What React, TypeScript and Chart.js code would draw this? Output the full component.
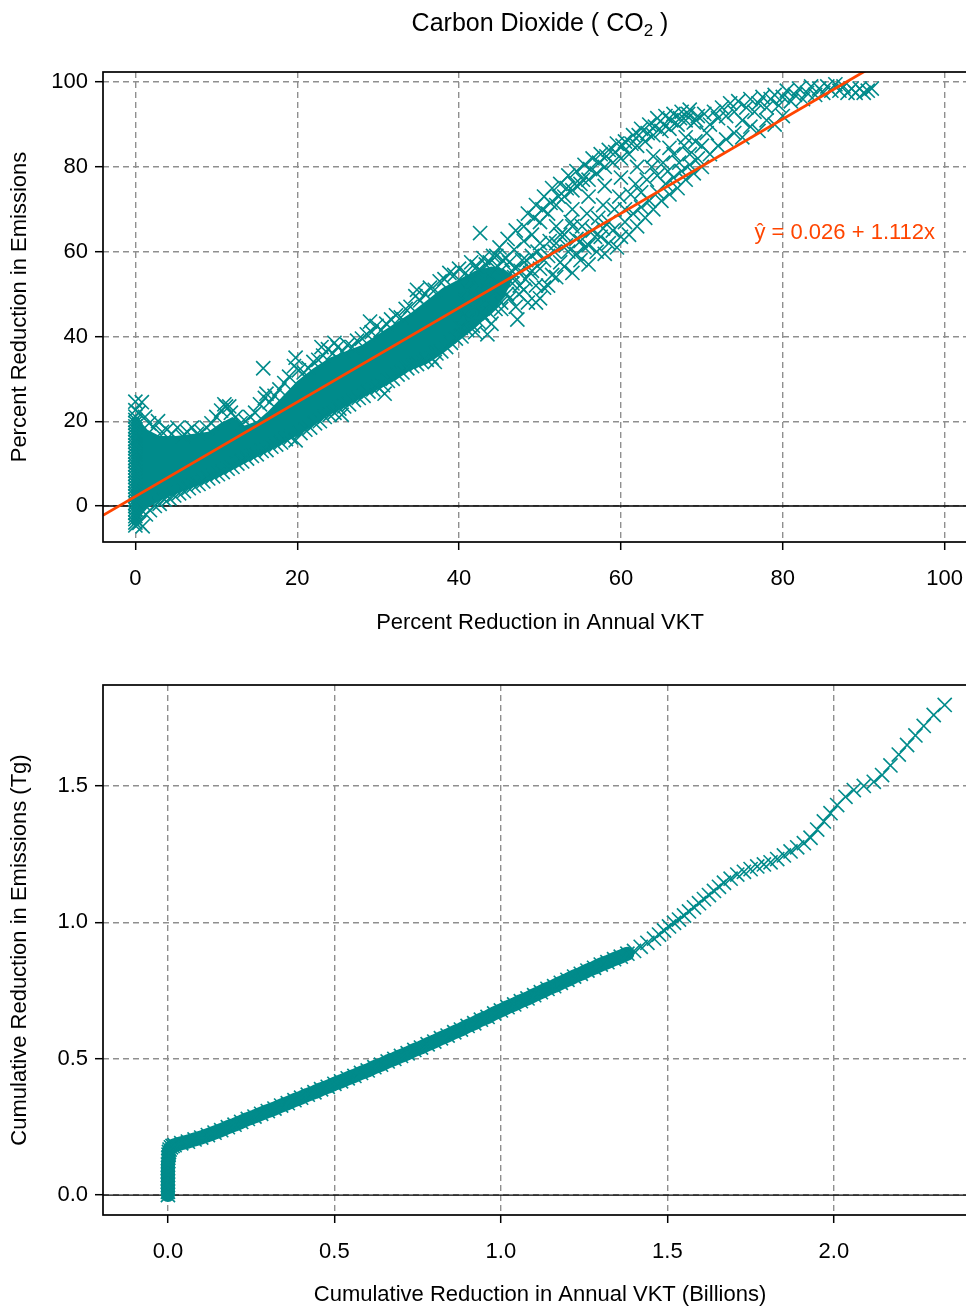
import React, { useEffect, useRef } from "react";
import { Chart, registerables } from "chart.js";

Chart.register(...registerables);

const TEAL = "#008B8B";
const ORANGE = "#FF4500";
const GRID = "#8f8f8f";
const FONT = "'Liberation Sans', Arial, Helvetica, sans-serif";

// ---------------- top panel: percent reduction ----------------
const pctTicksX = [0, 20, 40, 60, 80, 100];
const pctTicksY = [0, 20, 40, 60, 80, 100];
const pctXRange = [-4, 104];
const pctYRange = [-8.5, 102.4];

// many segments with zero VKT reduction (x = 0)
const zeroVktEmis = [
  -4.6, -3.9, -3.1, -2.4, -1.6, -0.8, 0, 0.7, 1.5, 2.3, 3, 3.8, 4.5, 5.3, 6, 6.8, 7.6, 8.3, 9.1, 9.8,
  10.6, 11.3, 12.1, 12.8, 13.6, 14.3, 15.1, 15.8, 16.6, 17.3, 18.1, 18.8, 19.6, 20.3, 21.1, 22.6, 24.6,
];

// envelope of the dense cloud (solid region)
const denseX = [-0.45, 0.45, 0.6, 1.5, 3, 5, 7, 9, 10.5, 12, 13.5, 15, 16.5, 18, 20, 22, 24, 26, 28, 30, 32, 34, 36, 38, 40, 42, 44, 45.5, 46.5];
const denseLo = [-4.5, -4.5, -2.5, -0.5, 1.2, 2.8, 4.3, 5.8, 7, 8.5, 10, 11.5, 13, 14.5, 16.5, 19, 21.5, 23.5, 25.5, 27.5, 29.5, 32, 33.5, 36, 39, 42, 45.5, 49, 53];
const denseHi = [21, 21, 20, 18, 16.5, 16.5, 17, 17.5, 19.5, 21, 19, 20, 22.5, 25.5, 29.5, 32.5, 35, 36.5, 38, 40.5, 43, 45.5, 48.5, 51.5, 53.5, 55.5, 56.5, 56, 54.5];

const upperEdgePts: [number, number][] = [
  [0.4, 22], [0.8, 24.5], [1.2, 21], [1.7, 19.5], [2.3, 18.5], [2.8, 20], [3.3, 17.5], [3.9, 18], [4.5, 17],
  [5.2, 18.5], [5.8, 16.5], [6.4, 17.5], [7, 18.5], [7.6, 17], [8.2, 17.5], [8.8, 18.5], [9.4, 19.5], [10, 21],
  [10.6, 22.5], [11.2, 23.5], [11.8, 22], [12.4, 21], [13, 19.5], [13.6, 20], [14.2, 21], [14.8, 22], [15.4, 24],
  [16, 25.5], [16.6, 24.5], [17.2, 26], [17.8, 27.5], [18.4, 29], [19, 30.5], [19.6, 33], [20.2, 32], [20.8, 31.5],
  [21.4, 32.5], [22, 34], [22.6, 34.5], [23.2, 35.5], [23.8, 37], [24.4, 36], [25, 37.5], [25.6, 36.5], [26.2, 38],
  [26.8, 37.5], [27.4, 39], [28, 39.5], [28.6, 40.5], [29.2, 41], [29.8, 42.5], [30.4, 41.5], [31, 43], [31.6, 44],
  [32.2, 45], [32.8, 44.5], [33.4, 46.5], [34, 47], [34.6, 49.5], [35.2, 48.5], [35.8, 50], [36.4, 51.5], [37, 51],
  [37.6, 53], [38.2, 53.5], [38.8, 55], [39.4, 54.5], [40, 56], [40.8, 55], [41.5, 57.5], [42.2, 56.5], [43, 58.5],
  [43.8, 57.5], [44.6, 59], [45.4, 58], [46.2, 57.5], [47, 56],
];

const lowerEdgePts: [number, number][] = [
  [0.5, -4], [0.9, -4.8], [1.3, -2], [1.8, -1], [2.4, 0], [3, 0.5], [3.6, 1.5], [4.2, 1.8], [4.8, 2.5], [5.4, 3],
  [6, 3.5], [6.6, 4.2], [7.2, 4.8], [7.8, 5.2], [8.4, 5.8], [9, 6.5], [9.6, 7], [10.2, 7.5], [10.8, 8], [11.4, 8.8],
  [12, 9.2], [12.6, 10], [13.2, 10.5], [13.8, 11.2], [14.4, 11.8], [15, 12.2], [15.6, 13], [16.2, 13.2], [16.8, 14],
  [17.4, 14.5], [18, 15], [18.6, 15.8], [19.2, 16.2], [19.8, 15.5], [20.4, 17.2], [21, 18], [21.6, 18.5], [22.2, 19.5],
  [22.8, 20], [23.4, 21], [24, 21.5], [24.6, 22], [25.2, 23], [25.8, 23.5], [26.4, 24], [27, 25], [27.6, 25.5],
  [28.2, 26], [28.8, 27], [29.4, 27.5], [30, 28], [30.6, 28.5], [31.2, 29.5], [31.8, 30], [32.4, 31], [33, 31.5],
  [33.6, 32.5], [34.2, 33], [34.8, 33.5], [35.4, 34], [36, 34.5], [36.6, 35], [37.2, 36], [37.8, 36.5], [38.4, 37.5],
  [39, 38.5], [39.6, 39.5], [40.3, 40], [41, 41.5], [41.7, 42.5], [42.4, 43.5], [43.1, 44.5], [43.8, 45.5],
  [44.5, 46.5], [45.2, 48], [45.9, 50], [46.6, 52.5],
];

const spikePts: [number, number][] = [
  [11, 24], [11.6, 23.5], [15.8, 32.5], [16.2, 26.5], [19.8, 35], [23, 37.5], [24.6, 38.5], [29, 43.5], [34.8, 51],
  [25.5, 21.5], [30.8, 26.5], [37, 34], [42, 41], [43.5, 40.5],
];

const midCloudPts: [number, number][] = [
  [40.2, 42], [40.5, 45], [40.7, 48.5], [41, 51], [41.2, 44], [41.5, 53.5], [41.8, 47], [42, 50],
  [42.3, 55.5], [42.6, 64.4], [42.8, 45.5], [43, 52.5], [43.3, 57], [43.5, 48.5], [43.8, 54.5],
  [44, 43], [44.2, 59], [44.5, 51], [44.8, 56.5], [45, 61], [45.2, 46.5], [45.5, 53.5], [45.8, 58.5], [46, 63],
  [46.2, 49], [46.5, 55.5], [46.8, 60.5], [47, 65], [47.2, 44], [47.5, 52], [47.8, 58], [48, 62.5], [48.5, 48],
  [48.8, 55], [49, 59], [49.5, 52], [50, 56], [51, 59], [52, 62], [53, 64], [54, 66],
  [47, 47], [48, 51], [49, 55.5], [49.5, 48], [50.5, 51.5], [51.5, 54.5], [52.5, 57.5], [53.5, 60],
  [54.5, 59.5], [55, 62.5], [56, 61.5], [56.8, 63.5], [57.8, 65.5], [48.3, 58], [49.7, 60], [50.5, 58],
  [51.2, 62.5], [51.8, 60], [52.5, 64], [53.2, 61.5], [53.8, 67], [54.5, 63], [55.2, 66], [55.8, 69], [56.5, 65],
  [57.2, 68], [57.8, 71], [58.5, 67], [59.2, 70], [59.8, 73], [60.5, 70], [61.2, 73.5], [61.8, 76], [62.5, 74],
  [63.2, 77], [63.8, 80], [64.5, 78], [65.2, 81], [65.8, 79], [66.5, 83], [67.2, 81], [67.8, 85], [68.5, 83],
  [69.2, 86], [70, 85], [70.6, 88], [46.8, 54], [47.4, 50], [47.6, 55.5], [48.2, 53.5],
];

const upperClusterPts: [number, number][] = [
  [48, 66], [48.5, 69], [49, 64], [49.5, 71], [50, 67], [50.5, 73], [51, 69], [51.5, 75], [52, 71], [52.5, 76],
  [53, 73], [53.5, 78], [54, 74.5], [54.5, 79], [55, 76], [55.5, 80.5], [56, 77], [56.5, 82], [57, 78.5],
  [57.5, 83], [58, 80], [58.5, 84], [59, 81], [59.5, 85.5], [60, 82], [60.5, 86], [61, 83], [61.5, 87.5],
  [62, 85], [62.5, 89], [63, 86], [63.5, 90], [64, 87.5], [64.5, 91.5], [65, 88.5], [65.5, 92], [66, 89],
  [66.5, 92.5], [67, 90], [67.5, 93], [68, 91], [68.5, 93.5], [69, 90.5], [69.5, 92],
  [50, 62], [52, 66], [54, 70], [56, 73], [58, 75.5], [60, 77.5], [62, 80], [64, 82.5], [66, 84.5], [68, 87],
  [56.2, 79.5], [57.3, 81], [58.2, 82.5], [59.3, 83.5], [60.2, 85], [61.3, 85.5], [62.2, 87.5], [63.3, 88],
  [64.2, 89.5], [65.3, 90], [66.2, 91], [67.3, 91.5], [68.3, 92.5], [69.3, 91], [70.3, 92.5], [55.3, 77],
  [54.3, 76], [53.3, 75], [52.3, 73], [51.3, 71.5], [50.3, 70], [49.3, 68],
];

const lowerBranchPts: [number, number][] = [
  [50, 49], [51, 52], [52, 54], [53, 56.5], [54, 55], [55, 58], [55.5, 61], [56, 57], [57, 60], [57.5, 63.5],
  [58, 59.5], [58.5, 62], [59, 65], [59.5, 61], [60, 63.5], [60.5, 67], [61, 64], [61.5, 69], [62, 66],
  [62.5, 70.5], [63, 68], [63.5, 72], [64, 70], [64.5, 74], [65, 72], [65.5, 76], [66, 73.5], [66.5, 77.5],
  [67, 75], [67.5, 79], [68, 77], [68.5, 80.5], [69, 78.5], [69.5, 82], [70, 80], [71, 83], [72, 85],
  [73, 86.5], [74, 88], [75, 87], [76, 89.5], [77, 88.5], [78, 91], [79, 90], [80, 92],
];

const topRightPts: [number, number][] = [
  [71, 90], [71.5, 93], [72, 91.5], [72.5, 94], [73, 92], [73.5, 95], [74, 93], [74.5, 95.5], [75, 91], [75.5, 94],
  [76, 96], [76.5, 93], [77, 95], [77.5, 96.5], [78, 94], [78.5, 96], [79, 97], [79.5, 94.5], [80, 96.5],
  [80.5, 98], [81, 95.5], [81.5, 97], [82, 98.5], [82.5, 96], [83, 97.5], [83.5, 99], [84, 97], [84.5, 98.5],
  [85, 97.5], [85.5, 99], [86, 98], [86.5, 99.5], [87, 98], [87.5, 99], [88, 97.5], [88.5, 98.5], [89, 97.5],
  [89.5, 98.5], [90, 97.5], [90.5, 98], [91, 98.5],
];

// fitted line  y-hat = 0.026 + 1.112x (drawn end points, percent units)
const fitX = [-4, 95];
const fitY = [-2.2, 108];
const fitLabel = "\u0177 = 0.026 + 1.112x";
const fitLabelAt = [76.5, 64.4];

// ---------------- bottom panel: cumulative ----------------
const cumTicksX = [0, 0.5, 1, 1.5, 2];
const cumTicksY = [0, 0.5, 1, 1.5];
const cumXRange = [-0.195, 2.43];
const cumYRange = [-0.073, 1.87];

const cumStemPts: [number, number][] = [
  [0, 0], [0, 0.012], [0, 0.025], [0, 0.037], [0, 0.05], [0, 0.062], [0, 0.075], [0, 0.087], [0, 0.1], [0, 0.112],
  [0.001, 0.125], [0.001, 0.137], [0.002, 0.148], [0.003, 0.158], [0.005, 0.167], [0.009, 0.175], [0.014, 0.18],
];

const cumDensePts: [number, number][] = [
  [0.02, 0.183], [0.04, 0.19], [0.06, 0.196], [0.08, 0.204], [0.1, 0.211], [0.12, 0.22], [0.14, 0.229],
  [0.16, 0.238], [0.18, 0.249], [0.2, 0.258], [0.22, 0.268], [0.24, 0.279], [0.26, 0.288], [0.28, 0.298],
  [0.3, 0.308], [0.32, 0.317], [0.34, 0.328], [0.36, 0.337], [0.38, 0.348], [0.4, 0.357], [0.42, 0.368],
  [0.44, 0.377], [0.46, 0.388], [0.48, 0.397], [0.5, 0.408], [0.52, 0.417], [0.54, 0.428], [0.56, 0.437],
  [0.58, 0.448], [0.6, 0.457], [0.62, 0.469], [0.64, 0.478], [0.66, 0.49], [0.68, 0.499], [0.7, 0.51],
  [0.72, 0.52], [0.74, 0.532], [0.76, 0.541], [0.78, 0.553], [0.8, 0.563], [0.82, 0.575], [0.84, 0.585],
  [0.86, 0.597], [0.88, 0.607], [0.9, 0.62], [0.92, 0.63], [0.94, 0.643], [0.96, 0.653], [0.98, 0.666],
  [1.0, 0.677], [1.02, 0.689], [1.04, 0.699], [1.06, 0.711], [1.08, 0.721], [1.1, 0.733], [1.12, 0.744],
  [1.14, 0.756], [1.16, 0.766], [1.18, 0.778], [1.2, 0.789], [1.22, 0.801], [1.24, 0.811], [1.26, 0.823],
  [1.28, 0.833], [1.3, 0.845], [1.32, 0.854], [1.34, 0.865], [1.36, 0.874], [1.38, 0.885],
];

const cumSparsePts: [number, number][] = [
  [1.4, 0.895], [1.42, 0.91], [1.44, 0.925], [1.46, 0.94], [1.475, 0.955], [1.49, 0.97], [1.505, 0.985],
  [1.52, 0.998], [1.535, 1.01], [1.55, 1.025], [1.565, 1.04], [1.58, 1.055], [1.595, 1.07], [1.61, 1.085],
  [1.625, 1.1], [1.64, 1.115], [1.655, 1.13], [1.67, 1.145], [1.69, 1.16], [1.71, 1.175], [1.73, 1.185],
  [1.75, 1.195], [1.77, 1.205], [1.79, 1.212], [1.81, 1.22], [1.83, 1.232], [1.85, 1.245], [1.87, 1.26],
  [1.89, 1.275], [1.91, 1.29], [1.93, 1.31], [1.95, 1.34], [1.97, 1.37], [1.99, 1.4], [2.01, 1.43],
  [2.035, 1.46], [2.06, 1.485], [2.09, 1.5], [2.12, 1.515], [2.145, 1.54], [2.17, 1.575], [2.195, 1.615],
  [2.22, 1.65], [2.245, 1.685], [2.27, 1.72], [2.3, 1.76], [2.333, 1.797],
];

// ---------------- helpers ----------------
const xy = (pts: [number, number][]) => pts.map(([x, y]) => ({ x, y }));

function xAxis(range: number[], ticks: number[], fmt: (v: number) => string, title: string, height: number, titlePad: number) {
  return {
    type: "linear",
    position: "bottom",
    min: range[0],
    max: range[1],
    afterBuildTicks: (s: any) => {
      s.ticks = ticks.map((v) => ({ value: v }));
    },
    afterFit: (s: any) => {
      s.height = height;
    },
    grid: { color: GRID, lineWidth: 1.4, drawTicks: true, tickLength: 8, tickColor: "#000", tickWidth: 1.5, tickBorderDash: [] },
    border: { display: false, dash: [6, 4] },
    ticks: {
      color: "#000",
      font: { family: FONT, size: 22 },
      padding: 15.5,
      maxRotation: 0,
      autoSkip: false,
      callback: (v: any) => fmt(Number(v)),
    },
    title: { display: true, text: title, color: "#000", font: { family: FONT, size: 22 }, padding: { top: 0, bottom: titlePad } },
  };
}

function yAxis(range: number[], ticks: number[], fmt: (v: number) => string, title: string) {
  return {
    type: "linear",
    position: "left",
    min: range[0],
    max: range[1],
    afterBuildTicks: (s: any) => {
      s.ticks = ticks.map((v) => ({ value: v }));
    },
    afterFit: (s: any) => {
      s.width = 103;
    },
    grid: { color: GRID, lineWidth: 1.4, drawTicks: true, tickLength: 8, tickColor: "#000", tickWidth: 1.5, tickBorderDash: [] },
    border: { display: false, dash: [6, 4] },
    ticks: {
      color: "#000",
      font: { family: FONT, size: 22 },
      padding: 7,
      autoSkip: false,
      callback: (v: any) => fmt(Number(v)),
    },
    title: { display: true, text: title, color: "#000", font: { family: FONT, size: 22 }, padding: { top: 7, bottom: 0 } },
  };
}

const framePlugin = {
  id: "frameAndZero",
  beforeDatasetsDraw(chart: any) {
    const { ctx, chartArea: a, scales } = chart;
    const py = scales.y.getPixelForValue(0);
    ctx.save();
    ctx.strokeStyle = "#000";
    ctx.lineWidth = 1.3;
    ctx.beginPath();
    ctx.moveTo(a.left, py);
    ctx.lineTo(a.right, py);
    ctx.stroke();
    ctx.restore();
  },
  afterDatasetsDraw(chart: any) {
    const { ctx, chartArea: a } = chart;
    ctx.save();
    ctx.strokeStyle = "#000";
    ctx.lineWidth = 1.7;
    ctx.strokeRect(a.left, a.top, a.right - a.left, a.bottom - a.top);
    ctx.restore();
  },
};

const fitLabelPlugin = {
  id: "fitLabel",
  afterDatasetsDraw(chart: any) {
    const { ctx, scales } = chart;
    ctx.save();
    ctx.font = `22px ${FONT}`;
    ctx.fillStyle = ORANGE;
    ctx.textAlign = "left";
    ctx.textBaseline = "middle";
    ctx.fillText(fitLabel, scales.x.getPixelForValue(fitLabelAt[0]), scales.y.getPixelForValue(fitLabelAt[1]));
    ctx.restore();
  },
};

const baseOptions = (padTop: number) => ({
  animation: false,
  responsive: false,
  maintainAspectRatio: false,
  devicePixelRatio: 1,
  events: [],
  layout: { padding: { top: padTop, right: 13, bottom: 0, left: 0 } },
  plugins: { legend: { display: false }, tooltip: { enabled: false }, title: { display: false } },
});

const crossStyle = {
  pointStyle: "crossRot",
  pointRadius: 10,
  borderWidth: 1.6,
  pointBorderWidth: 1.6,
  borderColor: TEAL,
  pointBorderColor: TEAL,
  backgroundColor: TEAL,
};

function topConfig(): any {
  const pts: [number, number][] = [
    ...zeroVktEmis.map((y) => [0, y] as [number, number]),
    ...upperEdgePts,
    ...lowerEdgePts,
    ...spikePts,
    ...midCloudPts,
    ...upperClusterPts,
    ...lowerBranchPts,
    ...topRightPts,
  ];
  return {
    type: "scatter",
    data: {
      datasets: [
        {
          type: "line",
          label: "fit",
          data: fitX.map((x, i) => ({ x, y: fitY[i] })),
          borderColor: ORANGE,
          borderWidth: 2.8,
          pointRadius: 0,
          fill: false,
          order: 0,
        },
        { label: "segments", data: xy(pts), ...crossStyle, order: 1 },
        {
          type: "line",
          label: "denseHi",
          data: denseX.map((x, i) => ({ x, y: denseHi[i] })),
          borderWidth: 0,
          borderColor: TEAL,
          pointRadius: 0,
          backgroundColor: TEAL,
          fill: "+1",
          order: 2,
        },
        {
          type: "line",
          label: "denseLo",
          data: denseX.map((x, i) => ({ x, y: denseLo[i] })),
          borderWidth: 0,
          borderColor: TEAL,
          pointRadius: 0,
          fill: false,
          order: 3,
        },
      ],
    },
    options: {
      ...baseOptions(72),
      scales: {
        x: xAxis(pctXRange, pctTicksX, (v) => String(v), "Percent Reduction in Annual VKT", 108, 13.8),
        y: yAxis(pctYRange, pctTicksY, (v) => String(v), "Percent Reduction in Emissions"),
      },
    },
    plugins: [framePlugin, fitLabelPlugin],
  };
}

function bottomConfig(): any {
  const all = [...cumStemPts, ...cumDensePts, ...cumSparsePts];
  const solid = [...cumStemPts, ...cumDensePts];
  return {
    type: "scatter",
    data: {
      datasets: [
        { label: "cumulative", data: xy(all), ...crossStyle, order: 0 },
        {
          type: "line",
          label: "cumulative-dense",
          data: xy(solid),
          borderColor: TEAL,
          borderWidth: 14,
          borderCapStyle: "round",
          borderJoinStyle: "round",
          pointRadius: 0,
          fill: false,
          order: 1,
        },
      ],
    },
    options: {
      ...baseOptions(35),
      scales: {
        x: xAxis(cumXRange, cumTicksX, (v) => v.toFixed(1), "Cumulative Reduction in Annual VKT (Billions)", 105, 11.8),
        y: yAxis(cumYRange, cumTicksY, (v) => v.toFixed(1), "Cumulative Reduction in Emissions (Tg)"),
      },
    },
    plugins: [framePlugin],
  };
}

export default function App() {
  const topRef = useRef<HTMLCanvasElement>(null);
  const botRef = useRef<HTMLCanvasElement>(null);

  useEffect(() => {
    const top = new Chart(topRef.current as HTMLCanvasElement, topConfig());
    const bot = new Chart(botRef.current as HTMLCanvasElement, bottomConfig());
    return () => {
      top.destroy();
      bot.destroy();
    };
  }, []);

  return (
    <div style={{ position: "fixed", left: 0, top: 0, width: 966, height: 1308, overflow: "hidden", background: "#fff" }}>
      <canvas ref={topRef} width={990} height={650} style={{ position: "absolute", left: 0, top: 0, width: 990, height: 650 }} />
      <canvas ref={botRef} width={990} height={670} style={{ position: "absolute", left: 0, top: 650, width: 990, height: 670 }} />
      <div
        style={{
          position: "absolute",
          left: 0,
          top: 7,
          width: 1080,
          textAlign: "center",
          fontFamily: FONT,
          fontSize: 25,
          lineHeight: "30px",
          color: "#000",
          whiteSpace: "nowrap",
        }}
      >
        Carbon Dioxide ( CO<sub style={{ fontSize: 17, verticalAlign: -5, lineHeight: 0 }}>2</sub> )
      </div>
    </div>
  );
}
